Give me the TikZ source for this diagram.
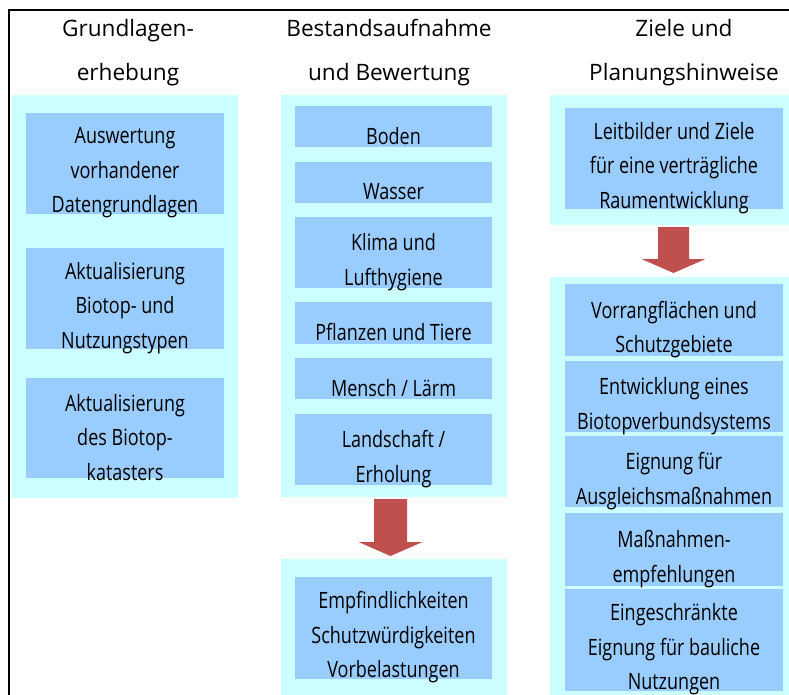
\documentclass[tikz,border=0pt]{standalone}
\usepackage{fontspec}
\setmainfont{Open Sans}
\newfontfamily\headfont{Open Sans}
\newfontfamily\bodyfont[FakeStretch=0.8]{Open Sans}
\definecolor{panelcyan}{HTML}{CCFFFF}
\definecolor{boxblue}{HTML}{99CCFF}
\definecolor{arrowred}{HTML}{C0504D}
\begin{document}
\begin{tikzpicture}[x=1pt,y=-1pt,
  panel/.style={fill=panelcyan, inner sep=0pt, outer sep=0pt},
  itembox/.style={fill=boxblue, inner sep=0pt, outer sep=0pt},
  itemtext/.style={font=\bodyfont\fontsize{22.5}{34.5}\selectfont, align=center, inner sep=0pt, yshift=-9.5pt},
  headtext/.style={font=\headfont\fontsize{22.6}{44}\selectfont, align=center, inner sep=0pt},
  blockarrow/.style={fill=arrowred}]
\useasboundingbox (0,0) rectangle (789,695);

% outer frame (top and left edge)
\draw[line width=1.6pt] (9,695) -- (9,10) -- (789,10);

% column headings
\node[headtext] (h1) at (128,53) {Grundlagen-\\erhebung};
\node[headtext] (h2) at (389,53) {Bestandsaufnahme\\und Bewertung};
\node[headtext] (h3) at (684,53) {Ziele und\\Planungshinweise};

% background panels
\node[panel, minimum width=226, minimum height=403] (p1)  at (125,296.5) {};
\node[panel, minimum width=226, minimum height=402] (p2a) at (394,296) {};
\node[panel, minimum width=226, minimum height=136] (p2b) at (394,627) {};
\node[panel, minimum width=239, minimum height=130] (p3a) at (669.5,160) {};
\node[panel, minimum width=239, minimum height=418] (p3b) at (669.5,486) {};

% column 1: Grundlagenerhebung
\node[itembox, minimum width=198, minimum height=101,
  label={[itemtext]center:Auswertung\\vorhandener\\Datengrundlagen}] (b11) at (125,163.5) {};
\node[itembox, minimum width=198, minimum height=101,
  label={[itemtext]center:Aktualisierung\\Biotop- und\\Nutzungstypen}] (b12) at (125,298.5) {};
\node[itembox, minimum width=198, minimum height=100,
  label={[itemtext]center:Aktualisierung\\des Biotop-\\katasters}] (b13) at (125,428) {};

% column 2: Bestandsaufnahme und Bewertung
\node[itembox, minimum width=197, minimum height=41,
  label={[itemtext]center:Boden}] (b21) at (393.5,126.5) {};
\node[itembox, minimum width=197, minimum height=41,
  label={[itemtext]center:Wasser}] (b22) at (393.5,182.5) {};
\node[itembox, minimum width=197, minimum height=71,
  label={[itemtext]center:Klima und\\Lufthygiene}] (b23) at (393.5,252.5) {};
\node[itembox, minimum width=197, minimum height=42,
  label={[itemtext]center:Pflanzen und Tiere}] (b24) at (393.5,323) {};
\node[itembox, minimum width=197, minimum height=41,
  label={[itemtext]center:Mensch / Lärm}] (b25) at (393.5,378.5) {};
\node[itembox, minimum width=197, minimum height=71,
  label={[itemtext]center:Landschaft /\\Erholung}] (b26) at (393.5,449.5) {};
\node[itembox, minimum width=197, minimum height=102,
  label={[itemtext]center:Empfindlichkeiten\\Schutzwürdigkeiten\\Vorbelastungen}] (b27) at (393.5,628) {};

% column 3: Ziele und Planungshinweise
\node[itembox, minimum width=218, minimum height=101,
  label={[itemtext]center:Leitbilder und Ziele\\für eine verträgliche\\Raumentwicklung}] (b31) at (674,158.5) {};
\node[itembox, minimum width=218, minimum height=72,
  label={[itemtext]center:Vorrangflächen und\\Schutzgebiete}] (b32) at (674,320) {};
\node[itembox, minimum width=218, minimum height=71,
  label={[itemtext]center:Entwicklung eines\\Biotopverbundsystems}] (b33) at (674,396.5) {};
\node[itembox, minimum width=218, minimum height=71,
  label={[itemtext]center:Eignung für\\Ausgleichsmaßnahmen}] (b34) at (674,471.5) {};
\node[itembox, minimum width=218, minimum height=73,
  label={[itemtext]center:Maßnahmen-\\empfehlungen}] (b35) at (674,549.5) {};
\node[itembox, minimum width=218, minimum height=102,
  label={[itemtext]center:Eingeschränkte\\Eignung für bauliche\\Nutzungen}] (b36) at (674,640) {};

% block arrows between the panels
\coordinate (a1) at (390.5,499);
\coordinate (a2) at (673.5,227);
\fill[blockarrow] (a1) ++(-16.5,0) -- ++(33,0) -- ++(0,43) -- ++(15.5,0)
  -- ++(-32,14) -- ++(-32,-14) -- ++(15.5,0) -- cycle;
\fill[blockarrow] (a2) ++(-15.5,0) -- ++(31,0) -- ++(0,32) -- ++(16.5,0)
  -- ++(-32,14) -- ++(-32,-14) -- ++(16.5,0) -- cycle;
\end{tikzpicture}
\end{document}
